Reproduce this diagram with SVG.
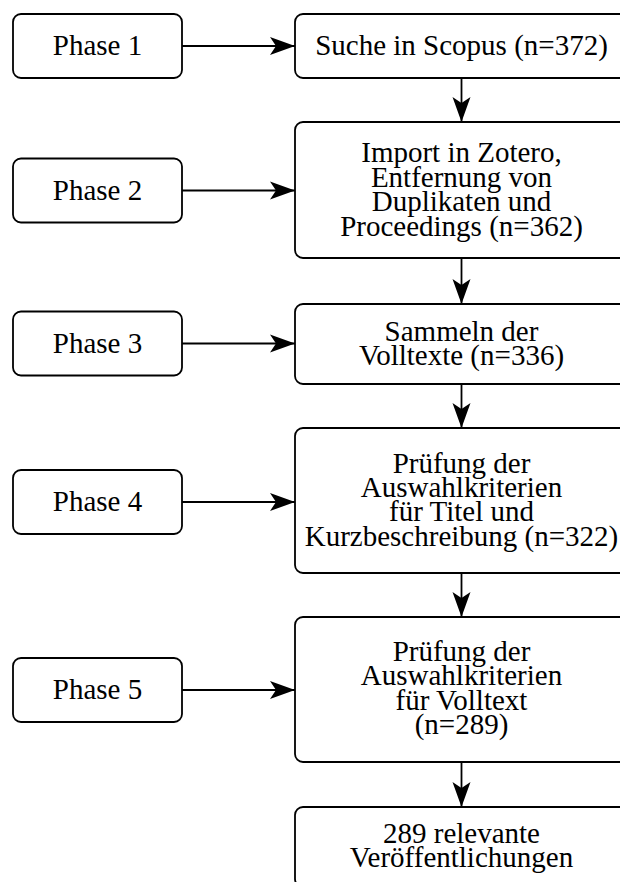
<svg xmlns="http://www.w3.org/2000/svg" width="620" height="882" viewBox="0 0 620 882">
  <style>
    .box { fill: #ffffff; stroke: #000000; stroke-width: 1.8; }
    .lbl { font-family: "Liberation Serif", "Tinos", "DejaVu Serif", "Times New Roman", serif; font-size: 29px; fill: #000000; text-anchor: middle; }
    .conn { stroke: #000000; stroke-width: 1.8; fill: none; marker-end: url(#stealth); }
  </style>
  <defs>
    <marker id="stealth" viewBox="-26 -10 27 20" markerWidth="27" markerHeight="20" refX="0" refY="0" orient="auto" markerUnits="userSpaceOnUse">
      <path d="M0,0 L-25,-9 L-19,0 L-25,9 Z" fill="#000000"/>
    </marker>
  </defs>
  <rect width="620" height="882" fill="#ffffff"/>

  <!-- phase labels (left column) -->
  <g id="phase1">
    <rect class="box" x="13" y="14" width="169" height="64" rx="8"/>
    <text class="lbl" x="97.5" y="55" font-family="Liberation Serif, DejaVu Serif, serif">Phase 1</text>
  </g>
  <g id="phase2">
    <rect class="box" x="13" y="158.5" width="169" height="64" rx="8"/>
    <text class="lbl" x="97.5" y="199.5" font-family="Liberation Serif, DejaVu Serif, serif">Phase 2</text>
  </g>
  <g id="phase3">
    <rect class="box" x="13" y="311.5" width="169" height="64" rx="8"/>
    <text class="lbl" x="97.5" y="352.5" font-family="Liberation Serif, DejaVu Serif, serif">Phase 3</text>
  </g>
  <g id="phase4">
    <rect class="box" x="13" y="470" width="169" height="64" rx="8"/>
    <text class="lbl" x="97.5" y="511" font-family="Liberation Serif, DejaVu Serif, serif">Phase 4</text>
  </g>
  <g id="phase5">
    <rect class="box" x="13" y="658" width="169" height="64" rx="8"/>
    <text class="lbl" x="97.5" y="699" font-family="Liberation Serif, DejaVu Serif, serif">Phase 5</text>
  </g>

  <!-- process steps (right column) -->
  <g id="step1">
    <rect class="box" x="295" y="14" width="333" height="64" rx="8"/>
    <text class="lbl" x="461.5" y="55">Suche in Scopus (n=372)</text>
  </g>
  <g id="step2">
    <rect class="box" x="295" y="122" width="333" height="136" rx="8"/>
    <text class="lbl" x="461.5" y="162.4">Import in Zotero,</text>
    <text class="lbl" x="461.5" y="186.8">Entfernung von</text>
    <text class="lbl" x="461.5" y="211.2">Duplikaten und</text>
    <text class="lbl" x="461.5" y="235.6">Proceedings (n=362)</text>
  </g>
  <g id="step3">
    <rect class="box" x="295" y="304" width="333" height="80" rx="8"/>
    <text class="lbl" x="461.5" y="340.8">Sammeln der</text>
    <text class="lbl" x="461.5" y="365.2">Volltexte (n=336)</text>
  </g>
  <g id="step4">
    <rect class="box" x="295" y="428" width="333" height="145" rx="8"/>
    <text class="lbl" x="461.5" y="472.5">Prüfung der</text>
    <text class="lbl" x="461.5" y="496.9">Auswahlkriterien</text>
    <text class="lbl" x="461.5" y="521.3">für Titel und</text>
    <text class="lbl" x="461.5" y="545.7">Kurzbeschreibung (n=322)</text>
  </g>
  <g id="step5">
    <rect class="box" x="295" y="617" width="333" height="145" rx="8"/>
    <text class="lbl" x="461.5" y="661">Prüfung der</text>
    <text class="lbl" x="461.5" y="685.4">Auswahlkriterien</text>
    <text class="lbl" x="461.5" y="709.8">für Volltext</text>
    <text class="lbl" x="461.5" y="734.2">(n=289)</text>
  </g>
  <g id="result">
    <rect class="box" x="295" y="807" width="333" height="80" rx="8"/>
    <text class="lbl" x="461.5" y="843">289 relevante</text>
    <text class="lbl" x="461.5" y="867.4">Veröffentlichungen</text>
  </g>

  <!-- connectors -->
  <g id="connectors">
    <line class="conn" x1="182" y1="46" x2="295" y2="46"/>
    <line class="conn" x1="182" y1="190.5" x2="295" y2="190.5"/>
    <line class="conn" x1="182" y1="343.5" x2="295" y2="343.5"/>
    <line class="conn" x1="182" y1="502" x2="295" y2="502"/>
    <line class="conn" x1="182" y1="690" x2="295" y2="690"/>
    <line class="conn" x1="461.5" y1="78" x2="461.5" y2="122"/>
    <line class="conn" x1="461.5" y1="258" x2="461.5" y2="304"/>
    <line class="conn" x1="461.5" y1="384" x2="461.5" y2="428"/>
    <line class="conn" x1="461.5" y1="573" x2="461.5" y2="617"/>
    <line class="conn" x1="461.5" y1="762" x2="461.5" y2="807"/>
  </g>
</svg>
